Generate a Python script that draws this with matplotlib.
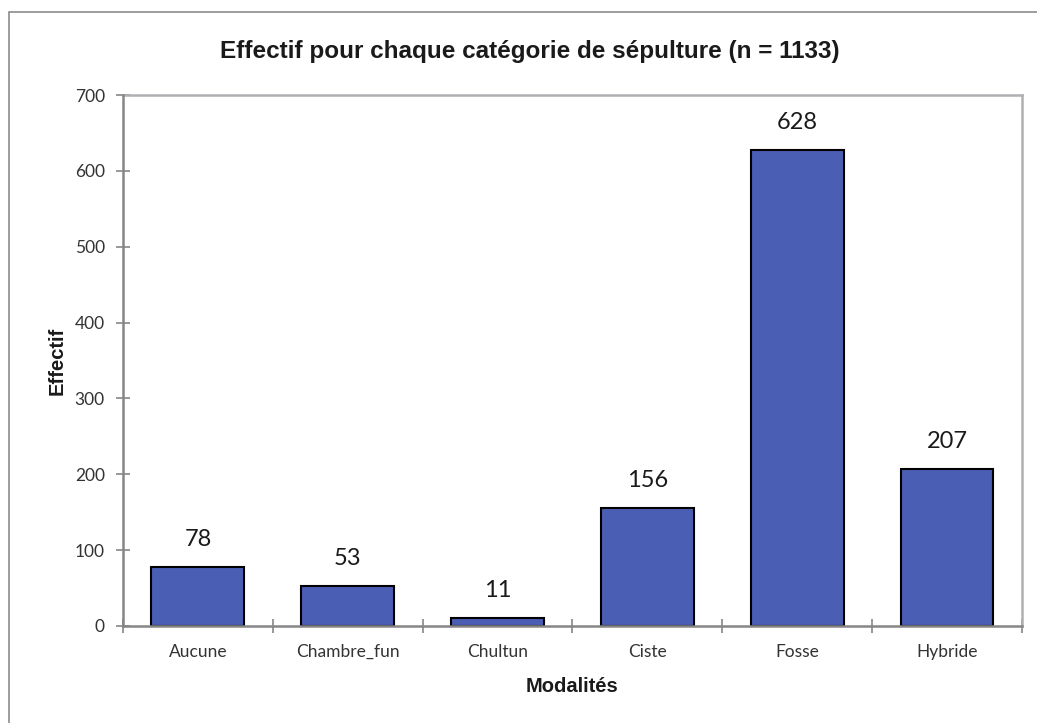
import matplotlib.pyplot as plt
from matplotlib.patches import Rectangle

# Effectifs par type de sépulture
modalites = ["Aucune", "Chambre_fun", "Chultun", "Ciste", "Fosse", "Hybride"]
effectifs = [78, 53, 11, 156, 628, 207]
graduations_y = [0, 100, 200, 300, 400, 500, 600, 700]

fig = plt.figure(figsize=(10.37, 7.23), dpi=100)
ax = fig.add_axes([0.1186, 0.1342, 0.8669, 0.7344])

# cadre extérieur du graphique
fig.patches.append(Rectangle((9 / 1037, -0.05), 1.2, 1 - 12 / 723 + 0.05,
                             transform=fig.transFigure, fill=False,
                             edgecolor="#8c8c8c", linewidth=1.2))

x = list(range(len(modalites)))
barres = ax.bar(x, effectifs, width=0.62, color="#4A5EB4",
                edgecolor="black", linewidth=1.5, zorder=2)

for xi, v in zip(x, effectifs):
    ax.annotate(str(v), (xi, v), xytext=(0, 12), textcoords="offset points",
                ha="center", va="bottom", fontsize=17, family="Lato",
                color="#1a1a1a")

ax.set_xlim(-0.5, len(modalites) - 0.5)
ax.set_ylim(0, 700)
ax.set_yticks(graduations_y)
ax.set_yticklabels([str(g) for g in graduations_y], family="Lato",
                   fontsize=12.5, color="#333333")
ax.set_xticks([i + 0.5 for i in range(-1, len(modalites))], minor=False)
ax.set_xticklabels([])
ax.set_xticks(x, minor=True)
ax.set_xticklabels(modalites, minor=True, family="Lato", fontsize=12.5,
                   color="#333333")
ax.tick_params(axis="x", which="major", direction="inout", length=10,
               color="#868686", width=1.2)
ax.tick_params(axis="x", which="minor", length=0, pad=13)
ax.tick_params(axis="y", direction="inout", length=10, color="#868686",
               width=1.2, pad=8)

for cote in ["left", "bottom"]:
    ax.spines[cote].set_color("#868686")
    ax.spines[cote].set_linewidth(1.8)
    ax.spines[cote].set_zorder(3)
for cote in ["top", "right"]:
    ax.spines[cote].set_color("#b0b0b4")
    ax.spines[cote].set_linewidth(1.8)

ax.set_xlabel("Modalités", family="Liberation Sans", fontweight="bold",
              fontsize=14.5, labelpad=12, color="#1a1a1a")
ax.set_ylabel("Effectif", family="Liberation Sans", fontweight="bold",
              fontsize=14.5, labelpad=6, color="#1a1a1a")
fig.text(0.511, 0.929, "Effectif pour chaque catégorie de sépulture (n = 1133)",
         ha="center", va="center", family="Liberation Sans",
         fontweight="bold", fontsize=17.5, color="#1a1a1a")

fig.savefig("out.png", dpi=100)
